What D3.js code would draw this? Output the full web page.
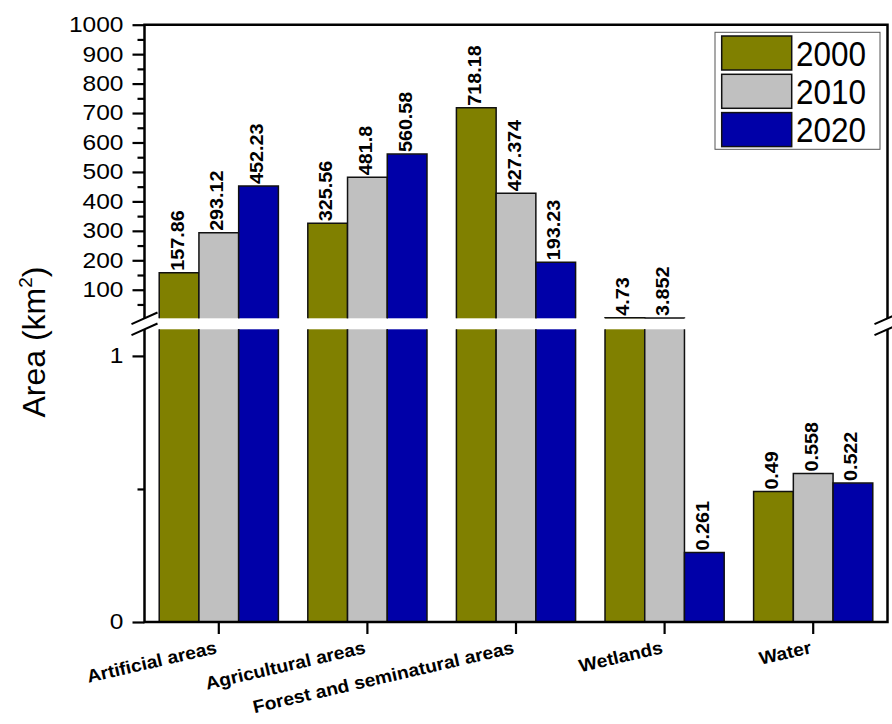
<!DOCTYPE html>
<html>
<head>
<meta charset="utf-8">
<script src="https://cdn.jsdelivr.net/npm/d3@7"></script>
<style>
  body { margin: 0; background: #fff; }
  svg { display: block; font-family: "Liberation Sans", Arial, sans-serif; }
</style>
</head>
<body>
<svg id="chart" width="892" height="724"></svg>
<script>
// Land-cover areas (km²) per class for three survey years
const categories = ["Artificial areas", "Agricultural areas", "Forest and seminatural areas", "Wetlands", "Water"];
const years = ["2000", "2010", "2020"];
const values2000 = [157.86, 325.56, 718.18, 4.73, 0.49];
const values2010 = [293.12, 481.8, 427.374, 3.852, 0.558];
const values2020 = [452.23, 560.58, 193.23, 0.261, 0.522];
const upperTicks = [100, 200, 300, 400, 500, 600, 700, 800, 900, 1000];
const upperMinorTicks = [50, 150, 250, 350, 450, 550, 650, 750, 850, 950];
const lowerTicks = [0, 1];
const lowerMinorTicks = [0.5];
const colors = ["#808000", "#C0C0C0", "#0000A8"];

const series = years.map((y, i) => ({ year: y, values: [values2000, values2010, values2020][i] }));

// Frame and the two segments of the broken y axis
const L = 144.5, R = 887.5, T = 24.7, B = 622;
const upperBottom = 318.3, lowerTop = 329.3;
const upperMin = 3, upperMax = 1000, lowerMax = 1.1;

const svg = d3.select("#chart");

const x = d3.scaleBand().domain(categories).range([L, R]).paddingInner(0).paddingOuter(0);
const groupW = x.bandwidth() * 0.802;
const xs = d3.scaleBand().domain(years).range([0, groupW]);
const groupOffset = (x.bandwidth() - groupW) / 2;

const yU = d3.scaleLinear().domain([upperMin, upperMax]).range([upperBottom, T]);
const yL = d3.scaleLinear().domain([0, lowerMax]).range([B, lowerTop]);

// Bars: each bar is drawn in whichever segment(s) its value reaches
const bars = svg.append("g");
series.forEach((s, si) => {
  s.values.forEach((v, ci) => {
    const x0 = x(categories[ci]) + groupOffset + xs(s.year);
    const x1 = x0 + xs.bandwidth();
    // lower segment
    const lt = yL(Math.min(v, lowerMax));
    bars.append("rect").attr("x", x0).attr("y", lt).attr("width", x1 - x0).attr("height", B - lt)
      .attr("fill", colors[si]);
    const lp = v <= lowerMax
      ? `M${x0},${B}V${lt}H${x1}V${B}`
      : `M${x0},${B}V${lowerTop}M${x1},${lowerTop}V${B}`;
    bars.append("path").attr("d", lp).attr("fill", "none").attr("stroke", "#111").attr("stroke-width", 1.5);
    // upper segment
    if (v > upperMin) {
      const ut = yU(v);
      bars.append("rect").attr("x", x0).attr("y", ut).attr("width", x1 - x0).attr("height", upperBottom - ut)
        .attr("fill", colors[si]);
      bars.append("path").attr("d", `M${x0},${upperBottom}V${ut}H${x1}V${upperBottom}`)
        .attr("fill", "none").attr("stroke", "#111").attr("stroke-width", 1.5);
    }
    // value label
    const ly = v > lowerMax ? yU(Math.max(v, upperMin)) - 2 : yL(v) - 2;
    const cx = (x0 + x1) / 2 + 4.5;
    bars.append("text")
      .attr("transform", `translate(${cx},${ly}) rotate(-90) scale(1.13,1)`)
      .attr("font-size", 17.5).attr("font-weight", "bold").attr("fill", "#000")
      .text(String(v));
  });
});

// Y axes (upper and lower segments)
function styleAxis(g, stretch) {
  g.select(".domain").remove();
  g.selectAll(".tick line").attr("stroke", "#000").attr("stroke-width", 2.2);
  g.selectAll(".tick text").attr("fill", "#000").attr("font-size", 21.5)
    .each(function () {
      const t = d3.select(this);
      const xx = +t.attr("x");
      t.attr("x", 0).attr("transform", `translate(${xx},0) scale(${stretch},1)`);
    });
}
const gU = svg.append("g").attr("transform", `translate(${L},0)`)
  .call(d3.axisLeft(yU).tickValues(upperTicks).tickSize(12).tickPadding(9).tickFormat(d3.format("d")));
styleAxis(gU, 1.14);
const gUm = svg.append("g").attr("transform", `translate(${L},0)`)
  .call(d3.axisLeft(yU).tickValues(upperMinorTicks).tickSize(7).tickFormat(""));
styleAxis(gUm, 1);
const gL = svg.append("g").attr("transform", `translate(${L},0)`)
  .call(d3.axisLeft(yL).tickValues(lowerTicks).tickSize(12).tickPadding(9).tickFormat(d3.format("d")));
styleAxis(gL, 1.14);
const gLm = svg.append("g").attr("transform", `translate(${L},0)`)
  .call(d3.axisLeft(yL).tickValues(lowerMinorTicks).tickSize(7).tickFormat(""));
styleAxis(gLm, 1);

// X axis ticks and slanted category labels
const gX = svg.append("g").attr("transform", `translate(0,${B})`)
  .call(d3.axisBottom(x).tickSize(12).tickFormat(""));
gX.select(".domain").remove();
gX.selectAll(".tick line").attr("stroke", "#000").attr("stroke-width", 2.2);
svg.append("g").selectAll("text").data(categories).join("text")
  .attr("transform", d => `translate(${x(d) + x.bandwidth() / 2 - 1},653) rotate(-13) scale(1.07,1)`)
  .attr("text-anchor", "end").attr("font-size", 18).attr("font-weight", "bold").attr("fill", "#000")
  .text(d => d);

// Frame with a gap at the axis break
const frame = svg.append("g").attr("stroke", "#000").attr("stroke-width", 2.5).attr("fill", "none");
frame.append("path").attr("d",
  `M${L},${upperBottom}V${T}H${R}V${upperBottom}` +
  `M${L},${lowerTop}V${B}H${R}V${lowerTop}`);
// Break marks on both vertical axes
[L, R].forEach(ax => {
  [upperBottom, lowerTop].forEach(by => {
    frame.append("line").attr("x1", ax - 13).attr("y1", by + 5.8).attr("x2", ax + 13).attr("y2", by - 5.8)
      .attr("stroke-width", 2);
  });
});

// Y axis title
const title = svg.append("text")
  .attr("transform", "translate(45,342) rotate(-90)")
  .attr("text-anchor", "middle").attr("font-size", 32).attr("fill", "#000");
title.append("tspan").text("Area (km");
title.append("tspan").attr("font-size", 19).attr("dy", -13).text("2");
title.append("tspan").attr("dy", 13).text(")");

// Legend
const lg = svg.append("g");
lg.append("rect").attr("x", 715).attr("y", 32.3).attr("width", 165).attr("height", 117)
  .attr("fill", "#fff").attr("stroke", "#555").attr("stroke-width", 1);
years.forEach((yr, i) => {
  const y0 = 36 + i * 38.3;
  lg.append("rect").attr("x", 721.7).attr("y", y0).attr("width", 70).attr("height", 34)
    .attr("fill", colors[i]).attr("stroke", "#111").attr("stroke-width", 1.5);
  lg.append("text").attr("transform", `translate(796,${y0 + 29.5}) scale(0.9,1)`)
    .attr("font-size", 35).attr("fill", "#000").text(yr);
});
</script>
</body>
</html>
